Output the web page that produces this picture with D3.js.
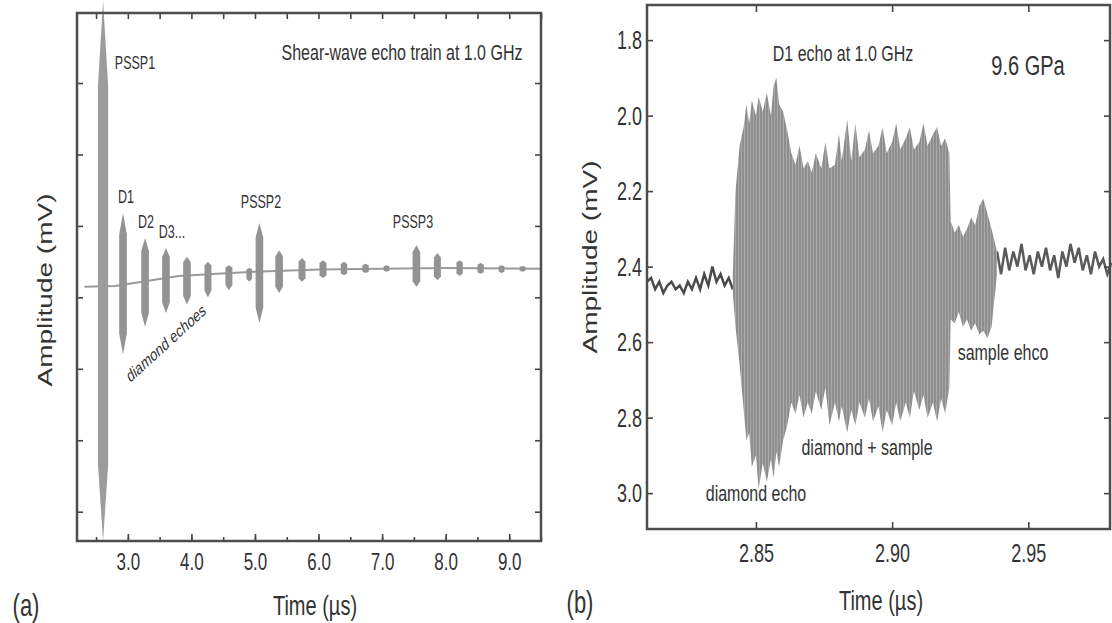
<!DOCTYPE html>
<html>
<head>
<meta charset="utf-8">
<script src="https://cdn.jsdelivr.net/npm/d3@7"></script>
<style>
  body { margin: 0; background: #fff; }
  svg text { font-family: "Liberation Sans", Arial, sans-serif; fill: #333; }
</style>
</head>
<body>
<svg id="fig" width="1112" height="623"></svg>
<script>
// ---- panel (a): shear-wave echo train ----
const trainTicks = [2.5, 3.0, 3.5, 4.0, 4.5, 5.0, 5.5, 6.0, 6.5, 7.0, 7.5, 8.0, 8.5, 9.0, 9.5];
const trainLabels = [3, 4, 5, 6, 7, 8, 9];
const ampTicks = [-3, -2, -1, 0, 1, 2, 3];

// echo centre (us), upper and lower envelope (arb. mV), duration (us)
const echoTime   = [2.61, 2.924, 3.271, 3.60, 3.93, 4.26, 4.59, 4.91, 5.07, 5.38, 5.74, 6.07, 6.40, 6.74, 7.07, 7.54, 7.87, 8.22, 8.55, 8.88, 9.21];
const echoTop    = [4.16, 1.18, 0.83, 0.69, 0.57, 0.50, 0.45, 0.41, 1.04, 0.66, 0.55, 0.52, 0.50, 0.47, 0.45, 0.73, 0.62, 0.52, 0.48, 0.45, 0.44];
const echoBottom = [-3.41, -0.80, -0.41, -0.22, -0.10, 0.0, 0.10, 0.22, -0.36, 0.06, 0.22, 0.27, 0.31, 0.34, 0.36, 0.15, 0.24, 0.30, 0.33, 0.34, 0.36];
const echoWidth  = [0.16, 0.12, 0.12, 0.12, 0.12, 0.11, 0.11, 0.09, 0.12, 0.12, 0.11, 0.11, 0.10, 0.10, 0.09, 0.12, 0.11, 0.10, 0.10, 0.09, 0.09];

const baseTime  = [2.32, 2.8, 3.1, 3.45, 3.8, 4.4, 5.0, 6.0, 7.0, 8.0, 9.5];
const baseValue = [0.15, 0.16, 0.20, 0.25, 0.30, 0.33, 0.36, 0.39, 0.40, 0.41, 0.40];

// ---- panel (b): D1 echo at 9.6 GPa ----
// envelope of the ringing part (diamond echo, diamond + sample, sample echo)
const d1Time = [2.8415, 2.8425, 2.8440, 2.8455, 2.8465, 2.8475, 2.8485, 2.8500, 2.8510, 2.8525,
                2.8540, 2.8555, 2.8565, 2.8575, 2.8585, 2.8600, 2.8615, 2.8630, 2.8645, 2.8660,
                2.8675, 2.8690, 2.8705, 2.8720, 2.8740, 2.8755, 2.8770, 2.8790, 2.8805, 2.8815,
                2.8835, 2.8850, 2.8865, 2.8880, 2.8900, 2.8915, 2.8930, 2.8950, 2.8965, 2.8980,
                2.9000, 2.9015, 2.9030, 2.9050, 2.9065, 2.9080, 2.9100, 2.9115, 2.9130, 2.9150,
                2.9165, 2.9180, 2.9195, 2.9210,
                2.9215, 2.9230, 2.9245, 2.9260, 2.9275, 2.9290, 2.9305, 2.9320, 2.9335, 2.9350,
                2.9365, 2.9385];
const d1Min  = [2.42, 2.20, 2.08, 2.03, 1.97, 2.02, 1.96, 2.00, 1.95, 1.99,
                1.94, 2.00, 1.92, 1.90, 1.97, 1.99, 2.04, 2.10, 2.13, 2.08,
                2.14, 2.12, 2.15, 2.10, 2.14, 2.07, 2.14, 2.13, 2.05, 2.12,
                2.01, 2.12, 2.02, 2.11, 2.09, 2.04, 2.10, 2.08, 2.03, 2.10,
                2.07, 2.02, 2.09, 2.06, 2.03, 2.09, 2.07, 2.02, 2.08, 2.05,
                2.03, 2.08, 2.06, 2.10,
                2.28, 2.31, 2.29, 2.32, 2.30, 2.27, 2.29, 2.24, 2.22, 2.26,
                2.30, 2.36];
const d1Max  = [2.47, 2.56, 2.66, 2.78, 2.86, 2.84, 2.93, 2.90, 2.99, 2.92,
                2.97, 2.91, 2.96, 2.89, 2.93, 2.86, 2.82, 2.76, 2.79, 2.74,
                2.80, 2.76, 2.79, 2.73, 2.78, 2.72, 2.82, 2.76, 2.81, 2.77,
                2.84, 2.78, 2.82, 2.76, 2.80, 2.75, 2.81, 2.77, 2.84, 2.78,
                2.82, 2.76, 2.81, 2.76, 2.80, 2.73, 2.78, 2.74, 2.80, 2.76,
                2.81, 2.75, 2.79, 2.72,
                2.54, 2.55, 2.52, 2.56, 2.54, 2.57, 2.55, 2.58, 2.57, 2.59,
                2.56, 2.42];
// quiet trace before and after the echo
const noiseTime  = [2.810, 2.8115, 2.813, 2.8145, 2.816, 2.8175, 2.819, 2.8205, 2.822, 2.8235,
                    2.825, 2.8265, 2.828, 2.8295, 2.831, 2.8325, 2.834, 2.8355, 2.837, 2.8385,
                    2.840, 2.8415,
                    2.9385, 2.940, 2.9415, 2.943, 2.9445, 2.946, 2.9475, 2.949, 2.9505, 2.952,
                    2.9535, 2.955, 2.9565, 2.958, 2.9595, 2.961, 2.9625, 2.964, 2.9655, 2.967,
                    2.9685, 2.970, 2.9715, 2.973, 2.9745, 2.976, 2.9775, 2.979, 2.9805];
const noiseValue = [2.44, 2.43, 2.46, 2.44, 2.47, 2.45, 2.44, 2.46, 2.45, 2.47,
                    2.44, 2.46, 2.43, 2.46, 2.42, 2.45, 2.40, 2.44, 2.42, 2.45,
                    2.43, 2.46,
                    2.36, 2.42, 2.35, 2.41, 2.36, 2.40, 2.34, 2.41, 2.37, 2.42,
                    2.36, 2.40, 2.35, 2.41, 2.37, 2.43, 2.36, 2.40, 2.34, 2.39,
                    2.35, 2.41, 2.37, 2.42, 2.36, 2.40, 2.38, 2.42, 2.39];
const d1Burst = [2.8415, 2.9385];
const d1TickX = [2.85, 2.90, 2.95];
const d1TickY = [1.8, 2.0, 2.2, 2.4, 2.6, 2.8, 3.0];

const stretch = 1.4;   // the printed figure is tall and narrow
const svg = d3.select("#fig");

const defs = svg.append("defs");
const pat = defs.append("pattern").attr("id", "osc")
    .attr("width", 3).attr("height", 10).attr("patternUnits", "userSpaceOnUse");
pat.append("rect").attr("width", 3).attr("height", 10).attr("fill", "#8e8e8e");
pat.append("rect").attr("width", 1).attr("height", 10).attr("fill", "#a9a9a9");

function label(x, y, txt, size, rot) {
    svg.append("text")
        .attr("transform", "translate(" + x + "," + y + ") scale(1," + stretch + ")" + (rot ? " rotate(" + rot + ")" : ""))
        .attr("text-anchor", "middle")
        .attr("dy", "0.35em")
        .style("font-size", size + "px")
        .text(txt);
}

function styleAxis(g) {
    g.select(".domain").remove();
    g.selectAll(".tick line").attr("stroke", "#444").attr("stroke-width", 1.6);
}

// ================= panel (a) =================
const xa = d3.scaleLinear().domain([2.2, 9.5]).range([77, 541]);
const ya = d3.scaleLinear().domain([-3.41, 3.98]).range([541, 13]);
const base = d3.scaleLinear().domain(baseTime).range(baseValue).clamp(true);

svg.append("path")
    .datum(baseTime.map((t, i) => ({t: t, v: baseValue[i]})))
    .attr("fill", "none").attr("stroke", "#9a9a9a").attr("stroke-width", 2)
    .attr("d", d3.line().x(d => xa(d.t)).y(d => ya(d.v)));

const echoLine = d3.line().x(d => xa(d.t)).y(d => ya(d.v)).curve(d3.curveLinearClosed);

echoTime.forEach((t, i) => {
    let w = echoWidth[i] / 2, b = base(t);
    let up = echoTop[i] - b, dn = b - echoBottom[i];
    // tapered band: full width around the baseline, pointed at both ends
    let pts = [
        {t: t, v: echoTop[i]},
        {t: t + w, v: echoTop[i] - 0.3 * up},
        {t: t + w, v: echoBottom[i] + 0.3 * dn},
        {t: t, v: echoBottom[i]},
        {t: t - w, v: echoBottom[i] + 0.3 * dn},
        {t: t - w, v: echoTop[i] - 0.3 * up}
    ];
    svg.append("path").datum(pts)
        .attr("fill", i == 0 ? "#9c9c9c" : "#939393")
        .attr("d", echoLine);
});

// minor + major ticks on the bottom, labels only on whole microseconds
svg.append("g").attr("transform", "translate(0,541)")
    .call(d3.axisBottom(xa).tickValues(trainTicks).tickSize(-4).tickFormat(""))
    .call(styleAxis);
const axA = svg.append("g").attr("transform", "translate(0,541)")
    .call(d3.axisBottom(xa).tickValues(trainLabels).tickSize(-7).tickFormat(d3.format(".1f")))
    .call(styleAxis);
axA.selectAll("text").attr("y", null).attr("dy", "0.35em")
    .attr("transform", "translate(0,21) scale(1," + stretch + ")")
    .style("font-size", "17px").attr("fill", "#333");

svg.append("g").attr("transform", "translate(0,13)")
    .call(d3.axisTop(xa).tickValues(trainTicks).tickSize(-6).tickFormat(""))
    .call(styleAxis);
svg.append("g").attr("transform", "translate(77,0)")
    .call(d3.axisLeft(ya).tickValues(ampTicks).tickSize(-6).tickFormat(""))
    .call(styleAxis);
svg.append("g").attr("transform", "translate(541,0)")
    .call(d3.axisRight(ya).tickValues(ampTicks).tickSize(-6).tickFormat(""))
    .call(styleAxis);

svg.append("rect").attr("x", 77).attr("y", 13).attr("width", 541 - 77).attr("height", 541 - 13)
    .attr("fill", "none").attr("stroke", "#4d4d4d").attr("stroke-width", 2.5);

label(402, 52, "Shear-wave echo train at 1.0 GHz", 16);
label(135, 63, "PSSP1", 12.5);
label(126, 197, "D1", 12.5);
label(146, 222, "D2", 12.5);
label(172, 232, "D3...", 12.5);
label(261, 202, "PSSP2", 12.5);
label(413, 222, "PSSP3", 12.5);
label(166, 343, "diamond echoes", 12.5, -33);
label(45, 290, "Amplitude (mV)", 20, -90);
label(315, 605, "Time (\u00b5s)", 20);
label(26, 605, "(a)", 22);

// ================= panel (b) =================
const xb = d3.scaleLinear().domain([2.81, 2.98]).range([647, 1110]);
const yb = d3.scaleLinear().domain([1.707, 3.095]).range([5, 529]);

const noise = noiseTime.map((t, i) => ({t: t, v: noiseValue[i]}));
const noiseLine = d3.line().x(d => xb(d.t)).y(d => yb(d.v));
svg.append("path").datum(noise.filter(d => d.t <= d1Burst[0]))
    .attr("fill", "none").attr("stroke", "#4a4a4a").attr("stroke-width", 2.5)
    .attr("d", noiseLine);
svg.append("path").datum(noise.filter(d => d.t >= d1Burst[1]))
    .attr("fill", "none").attr("stroke", "#5a5a5a").attr("stroke-width", 2.5)
    .attr("d", noiseLine);

const d1 = d1Time.map((t, i) => ({t: t, lo: d1Min[i], hi: d1Max[i]}));
svg.append("path").datum(d1)
    .attr("fill", "url(#osc)")
    .attr("d", d3.area().x(d => xb(d.t)).y0(d => yb(d.lo)).y1(d => yb(d.hi)));

const axB = svg.append("g").attr("transform", "translate(0,529)")
    .call(d3.axisBottom(xb).tickValues(d1TickX).tickSize(-7).tickFormat(d3.format(".2f")))
    .call(styleAxis);
axB.selectAll("text").attr("y", null).attr("dy", "0.35em")
    .attr("transform", "translate(0,24) scale(1," + stretch + ")")
    .style("font-size", "18px").attr("fill", "#333");
svg.append("g").attr("transform", "translate(0,5)")
    .call(d3.axisTop(xb).tickValues(d1TickX).tickSize(-7).tickFormat(""))
    .call(styleAxis);
const ayB = svg.append("g").attr("transform", "translate(647,0)")
    .call(d3.axisLeft(yb).tickValues(d1TickY).tickSize(-6).tickPadding(5).tickFormat(d3.format(".1f")))
    .call(styleAxis);
ayB.selectAll("text").attr("dy", "0.35em")
    .attr("transform", "scale(1," + stretch + ")")
    .style("font-size", "18px").attr("fill", "#333");
svg.append("g").attr("transform", "translate(1110,0)")
    .call(d3.axisRight(yb).tickValues(d1TickY).tickSize(-6).tickFormat(""))
    .call(styleAxis);

svg.append("rect").attr("x", 647).attr("y", 5).attr("width", 1110 - 647).attr("height", 529 - 5)
    .attr("fill", "none").attr("stroke", "#4d4d4d").attr("stroke-width", 2.5);

label(843, 53, "D1 echo at 1.0 GHz", 16);
label(1028, 65, "9.6 GPa", 20);
label(1003, 352, "sample ehco", 16);
label(867, 447, "diamond + sample", 16);
label(756, 493, "diamond echo", 16);
label(590, 257, "Amplitude (mV)", 20, -90);
label(881, 600, "Time (\u00b5s)", 20);
label(580, 602, "(b)", 22);
</script>
</body>
</html>
